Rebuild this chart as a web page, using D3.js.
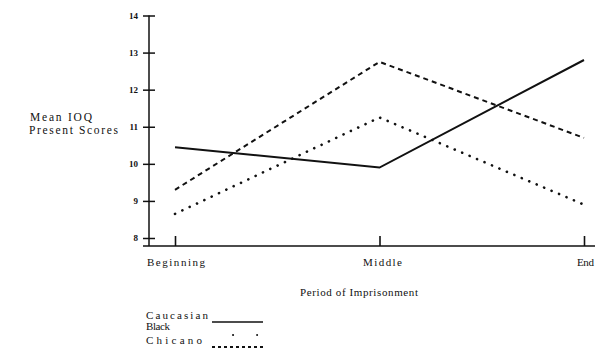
<!DOCTYPE html>
<html><head><meta charset="utf-8">
<script src="https://cdn.jsdelivr.net/npm/d3@7"></script>
<style>
body{margin:0;background:#fff;}
text{font-family:"Liberation Serif","DejaVu Serif",serif;fill:#111;}
</style></head>
<body><svg id="c" width="595" height="350"></svg>
<script>
const periods = ["Beginning","Middle","End"];
const caucasian = [10.45, 9.9, 12.8];
const black = [8.65, 11.25, 8.9];
const chicano = [9.3, 12.75, 10.7];
const yTicks = [8,9,10,11,12,13,14];
const seriesNames = ["Caucasian","Black","Chicano"];
const seriesDash = ["none","0.1,8","5,4"];
const legendDash = ["none","0.1,24","3,3"];

const svg = d3.select("#c");
const x = d3.scalePoint().domain(periods).range([175,584]);
const y = d3.scaleLinear().domain([8,14]).range([238,15.5]);

function txt(s, x0, y0, w, size){
  return svg.append("text").attr("x",x0).attr("y",y0).attr("font-size",size||11)
    .attr("textLength",w).attr("lengthAdjust","spacing").text(s);
}

// y axis
const ya = svg.append("g").attr("transform","translate(149,0)")
  .call(d3.axisLeft(y).tickValues(yTicks).tickSize(6).tickPadding(5).tickFormat(d3.format("d")));
ya.select(".domain").remove();
ya.selectAll(".tick line").attr("x1",6).attr("stroke","#111").attr("stroke-width",1.5);
ya.selectAll(".tick text").attr("font-size",9).attr("font-weight","bold");
svg.append("line").attr("x1",149).attr("x2",149).attr("y1",y(14)).attr("y2",246)
  .attr("stroke","#111").attr("stroke-width",1.5);

// x axis
const xa = svg.append("g").attr("transform","translate(0,246)")
  .call(d3.axisTop(x).tickSize(10).tickFormat(""));
xa.select(".domain").remove();
xa.selectAll(".tick line").attr("stroke","#111").attr("stroke-width",1.6);
svg.append("line").attr("x1",143).attr("x2",595).attr("y1",246).attr("y2",246)
  .attr("stroke","#111").attr("stroke-width",1.3);
const xLabelStart = [147, 363, 577];
const xLabelWidth = [58, 39, 17];
periods.forEach((p,i)=>txt(p, xLabelStart[i], 266, xLabelWidth[i], 11));
txt("Period of Imprisonment", 300, 296, 118, 11);

// y title
txt("Mean IOQ", 30, 121, 62, 11.5);
txt("Present Scores", 29, 134, 89, 11.5);

// lines
const line = d3.line().x((d,i)=>x(periods[i])).y(d=>y(d));
const data = [caucasian, black, chicano];
svg.append("g").selectAll("path").data(data).join("path")
  .attr("d",line).attr("fill","none").attr("stroke","#111")
  .attr("stroke-width",(d,i)=>i===0?2:(i===1?2.6:2))
  .attr("stroke-linecap",(d,i)=>i===1?"round":"butt")
  .attr("stroke-dasharray",(d,i)=>seriesDash[i]);

// legend
const lgY = [319, 330, 344];
const lgLineY = [322, 335, 347];
const lgW = [62, 24, 56];
seriesNames.forEach((n,i)=>{
  txt(n, 146, lgY[i], lgW[i], 11);
  svg.append("line").attr("x1",i===1?233:212).attr("x2",i===1?257.1:(i===0?263:265))
    .attr("y1",lgLineY[i]).attr("y2",lgLineY[i])
    .attr("stroke","#111").attr("stroke-width",i===0?1.6:2)
    .attr("stroke-linecap",i===1?"round":"butt")
    .attr("stroke-dasharray",legendDash[i]);
});
</script></body></html>
